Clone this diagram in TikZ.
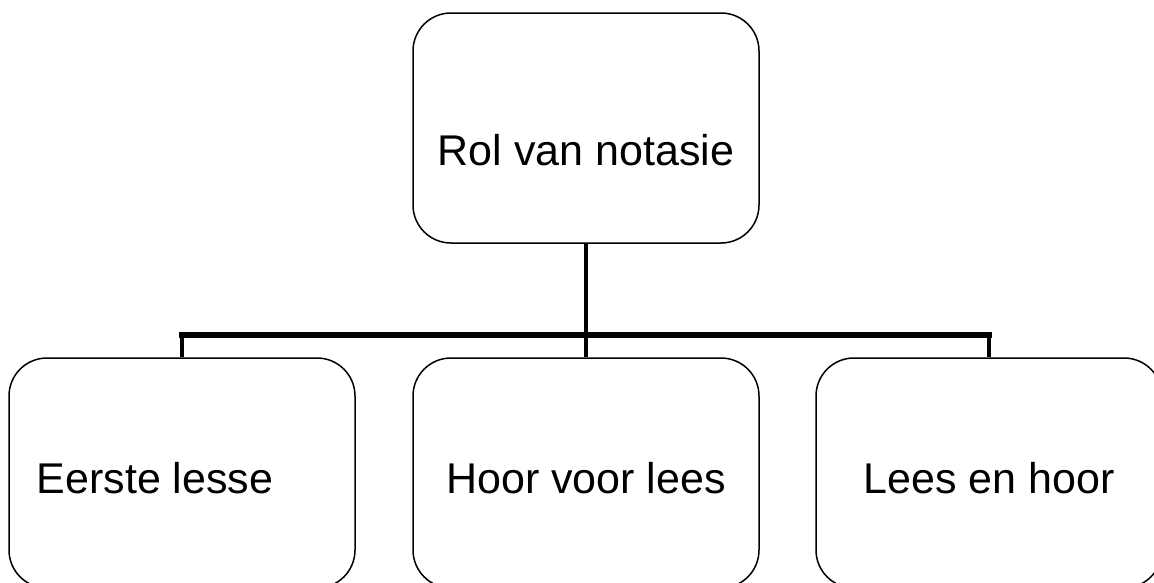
\documentclass[tikz,border=0pt]{standalone}
\usepackage{fontspec}
\setmainfont{Liberation Sans}
\begin{document}
\begin{tikzpicture}[x=1pt,y=-1pt,
  box/.style={draw=black, line width=1.5pt, rounded corners=38pt, minimum width=346pt, minimum height=230pt, inner sep=0pt},
  lbl/.style={font=\fontsize{43}{50}\selectfont, anchor=base, inner sep=0pt},
  conn/.style={line width=4.5pt},
  bar/.style={line width=6pt, line cap=rect}]
\useasboundingbox (0,0) rectangle (1154,582);
\node[box] (top) at (586,128) {};
\node[box] (left) at (182,473) {};
\node[box] (mid) at (586,473) {};
\node[box] (right) at (989,473) {};
\node[lbl] (ttop) at (586,165) {Rol van notasie};
\node[lbl] (tleft) at (155,493) {Eerste lesse};
\node[lbl] (tmid) at (586,493) {Hoor voor lees};
\node[lbl] (tright) at (989,493) {Lees en hoor};
\coordinate (jn) at (586,335);
\draw[conn] (top.south) -- (mid.north);
\draw[conn] (left.north) -- ([yshift=3pt]left.north |- jn);
\draw[conn] (right.north) -- ([yshift=3pt]right.north |- jn);
\draw[bar] (left.north |- jn) -- (right.north |- jn);
\end{tikzpicture}
\end{document}
